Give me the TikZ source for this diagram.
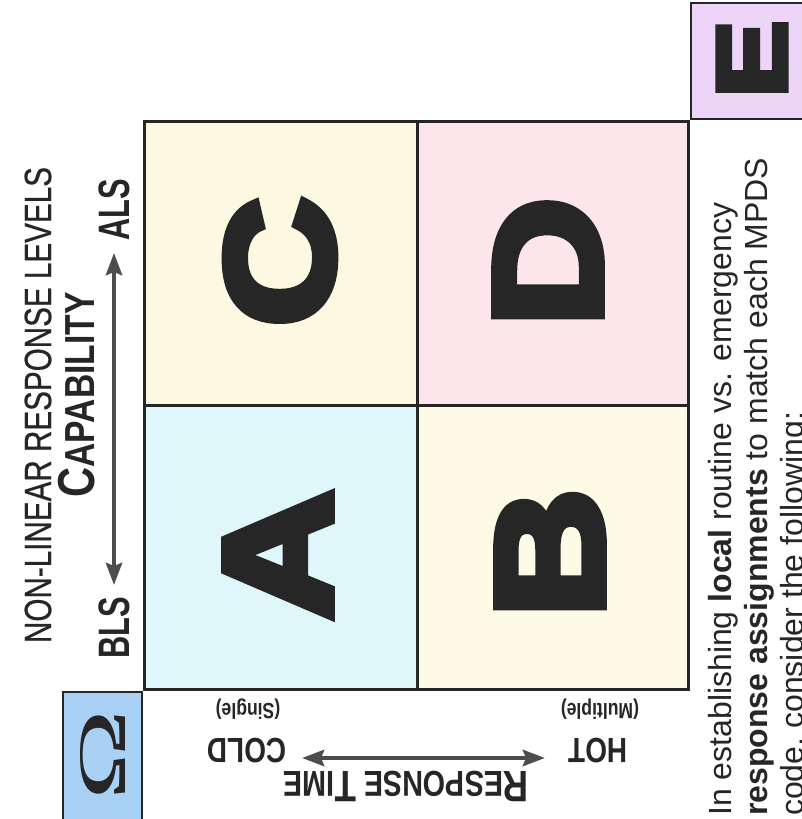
\documentclass[tikz,border=0pt]{standalone}
\usepackage{fontspec}
\setmainfont{Liberation Sans}
\newfontfamily\narrowfont{Liberation Sans}[FakeStretch=0.78,FakeBold=0.6]
\newfontfamily\narrowbold{Liberation Sans}[UprightFont={* Bold},FakeStretch=0.8]
\newfontfamily\tightbold{Liberation Sans}[UprightFont={* Bold},FakeStretch=0.7]
\newfontfamily\heavyfont{Liberation Sans}[UprightFont={* Bold},FakeBold=6,FakeStretch=1.18]
\newfontfamily\greekfont{Liberation Serif}
\usetikzlibrary{arrows.meta}
\definecolor{cellA}{HTML}{DFF6FB}
\definecolor{cellB}{HTML}{FDFBE6}
\definecolor{cellC}{HTML}{FDF8E1}
\definecolor{cellD}{HTML}{FCE6EB}
\definecolor{omegablue}{HTML}{A9D1F5}
\definecolor{elilac}{HTML}{EDD5F8}
\definecolor{ink}{HTML}{262626}
\definecolor{arrowgray}{HTML}{4D4D4D}
\begin{document}
\begin{tikzpicture}[x=1pt,y=-1pt,cell/.style={draw=ink,line width=2.5pt,minimum width=273pt,minimum height=284pt,inner sep=0pt},bigletter/.style={rotate=90,text=ink,font=\heavyfont\fontsize{152}{152}\selectfont,inner sep=0pt},tagbox/.style={draw=ink,line width=2pt,inner sep=0pt},axis/.style={rotate=90,text=ink,font=\tightbold\fontsize{44}{44}\selectfont,inner sep=0pt},timelabel/.style={rotate=180,text=ink,font=\narrowbold\fontsize{35}{35}\selectfont,inner sep=0pt},sublabel/.style={rotate=180,text=ink,font=\narrowbold\fontsize{22}{22}\selectfont,inner sep=0pt},dblarrow/.style={draw=arrowgray,line width=4.5pt,{Stealth[length=22pt,width=16pt,inset=3pt]}-{Stealth[length=22pt,width=16pt,inset=3pt]}},bodyline/.style={rotate=90,anchor=base west,text=ink,font=\fontsize{32}{32}\selectfont,inner sep=0pt}]
\useasboundingbox (0,0) rectangle (801,819);
\node[cell,fill=cellC,anchor=north west] (cellC) at (143,120) {};
\node[cell,fill=cellD,anchor=north west,minimum width=271pt] (cellD) at (416,120) {};
\node[cell,fill=cellA,anchor=north west] (cellA) at (143,404) {};
\node[cell,fill=cellB,anchor=north west,minimum width=271pt] (cellB) at (416,404) {};
\node[bigletter] (letterA) at (278,555) {A};
\node[bigletter] (letterB) at (550,553) {B};
\node[bigletter] (letterC) at (280,262) {C};
\node[bigletter] (letterD) at (548,262) {D};
\node[tagbox,fill=omegablue,anchor=north east,minimum width=79pt,minimum height=128pt] (omegabox) at (cellA.south west) {};
\node[rotate=90,text=ink,font=\greekfont\fontsize{68}{68}\selectfont,inner sep=0pt] (omega) at (omegabox) {\scalebox{1.8}[1]{Ω}};
\node[tagbox,fill=elilac,anchor=south west,minimum width=118pt,minimum height=116pt] (ebox) at (cellD.north east) {};
\node[bigletter,font=\heavyfont\fontsize{98}{98}\selectfont] (letterE) at (752,59) {E};
\node[rotate=90,text=ink,font=\narrowfont\fontsize{38}{38}\selectfont,inner sep=0pt] (levels) at (38,405) {NON-LINEAR RESPONSE LEVELS};
\node[axis,font=\narrowbold\fontsize{42}{42}\selectfont] (capability) at (77,395) {{\fontsize{52}{52}\selectfont C}APABILITY};
\node[axis] (als) at (114,210) {ALS};
\node[axis] (bls) at (114,628) {BLS};
\draw[dblarrow,shorten <=12pt,shorten >=12pt] (bls.east) -- (als.west);
\node[timelabel] (cold) at (247,751) {COLD};
\node[sublabel] (single) at (248,709) {(Single)};
\node[timelabel] (hot) at (598,751) {HOT};
\node[sublabel] (multiple) at (600,709) {(Multiple)};
\coordinate (coldend) at (302,758);
\coordinate (hotend) at (545,758);
\draw[dblarrow] (coldend) -- (hotend);
\node[rotate=180,text=ink,font=\narrowbold\fontsize{36}{36}\selectfont,inner sep=0pt] (resptime) at (406,786) {{\fontsize{44}{44}\selectfont R}ESPONSE {\fontsize{44}{44}\selectfont T}IME};
\node[bodyline] (line1) at (731,816) {In establishing \textbf{local} routine vs. emergency};
\node[bodyline] (line2) at (767,816) {\textbf{response assignments} to match each MPDS};
\node[bodyline] (line3) at (803,816) {code, consider the following:};
\end{tikzpicture}
\end{document}
